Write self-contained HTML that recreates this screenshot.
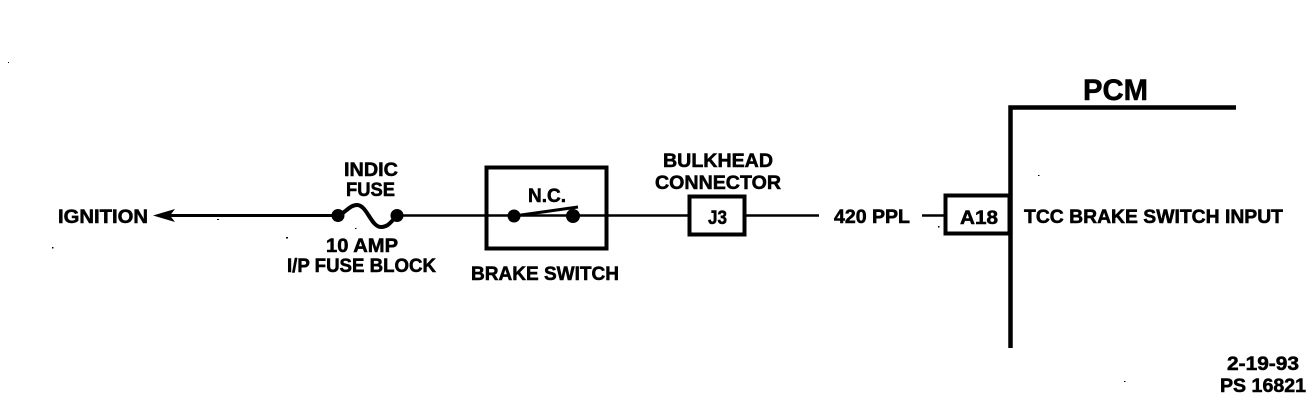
<!DOCTYPE html>
<html>
<head>
<meta charset="utf-8">
<style>
html,body{margin:0;padding:0;background:#fff;width:1312px;height:400px;overflow:hidden}
svg{display:block}
text{font-family:"Liberation Sans",sans-serif;font-weight:bold;fill:#000;stroke:#000;stroke-width:.55}
</style>
</head>
<body>
<svg width="1312" height="400" viewBox="0 0 1312 400" xmlns="http://www.w3.org/2000/svg">
<rect width="1312" height="400" fill="#fff"/>
<g fill="none" stroke="#000">
  <path d="M170 215.500H338" stroke-width="3"/>
  <path d="M338 216C346 212 350 205 357 205C367 205 371 227 381 227C389 227 391 221 397 216" stroke-width="4"/>
  <path d="M397 215.500H689" stroke-width="2.500"/>
  <path d="M746 215.500H819" stroke-width="2.500"/>
  <path d="M922 215.500H945" stroke-width="2.500"/>
  <path d="M514 216L578 207" stroke-width="3"/>
  <rect x="486.500" y="167.500" width="120" height="81" stroke-width="4"/>
  <rect x="689.500" y="196.500" width="55" height="38" stroke-width="4"/>
  <rect x="945.500" y="195.500" width="64" height="38" stroke-width="4"/>
  <path d="M1010.500 348V107.500H1236" stroke-width="4.500"/>
</g>
<g fill="#000">
  <path d="M153 215.500L175 209L170 215.500L175 222Z"/>
  <circle cx="338" cy="215.500" r="6.500"/>
  <circle cx="397" cy="215.500" r="6.500"/>
  <circle cx="514" cy="216" r="6.500"/>
  <circle cx="573" cy="216" r="7"/>
  <rect x="217" y="219" width="2" height="1"/>
  <rect x="52" y="247" width="1.500" height="1.500"/>
  <rect x="286" y="237" width="2" height="1.500"/>
  <rect x="355" y="228" width="1.500" height="1"/>
  <rect x="1038" y="175" width="1.500" height="1"/>
  <rect x="938" y="226" width="1.500" height="1.500"/>
  <rect x="1124" y="381" width="1.500" height="1"/>
  <rect x="8" y="62" width="1" height="1"/>
</g>
<text x="58" y="223" font-size="19.500" textLength="90" lengthAdjust="spacingAndGlyphs">IGNITION</text>
<text x="344" y="176" font-size="19.500" textLength="54" lengthAdjust="spacingAndGlyphs">INDIC</text>
<text x="346" y="196" font-size="19.500" textLength="49" lengthAdjust="spacingAndGlyphs">FUSE</text>
<text x="326" y="252" font-size="19.500" textLength="72" lengthAdjust="spacingAndGlyphs">10 AMP</text>
<text x="287" y="272" font-size="19.500" textLength="149" lengthAdjust="spacingAndGlyphs">I/P FUSE BLOCK</text>
<text x="528" y="202" font-size="19.500" textLength="38" lengthAdjust="spacingAndGlyphs">N.C.</text>
<text x="471" y="280" font-size="19.500" textLength="148" lengthAdjust="spacingAndGlyphs">BRAKE SWITCH</text>
<text x="663" y="167" font-size="19.500" textLength="110" lengthAdjust="spacingAndGlyphs">BULKHEAD</text>
<text x="655" y="189" font-size="19.500" textLength="126" lengthAdjust="spacingAndGlyphs">CONNECTOR</text>
<text x="708" y="224" font-size="19.500" textLength="19" lengthAdjust="spacingAndGlyphs">J3</text>
<text x="834" y="223" font-size="19.500" textLength="76" lengthAdjust="spacingAndGlyphs">420 PPL</text>
<text x="960" y="224" font-size="19.500" textLength="38" lengthAdjust="spacingAndGlyphs">A18</text>
<text x="1024" y="223" font-size="19.500" textLength="259" lengthAdjust="spacingAndGlyphs">TCC BRAKE SWITCH INPUT</text>
<text x="1083" y="100" font-size="30" textLength="65" lengthAdjust="spacingAndGlyphs">PCM</text>
<text x="1227" y="370" font-size="19.500" textLength="72" lengthAdjust="spacingAndGlyphs">2-19-93</text>
<text x="1220" y="392" font-size="19.500" textLength="86" lengthAdjust="spacingAndGlyphs">PS 16821</text>
</svg>
</body>
</html>
